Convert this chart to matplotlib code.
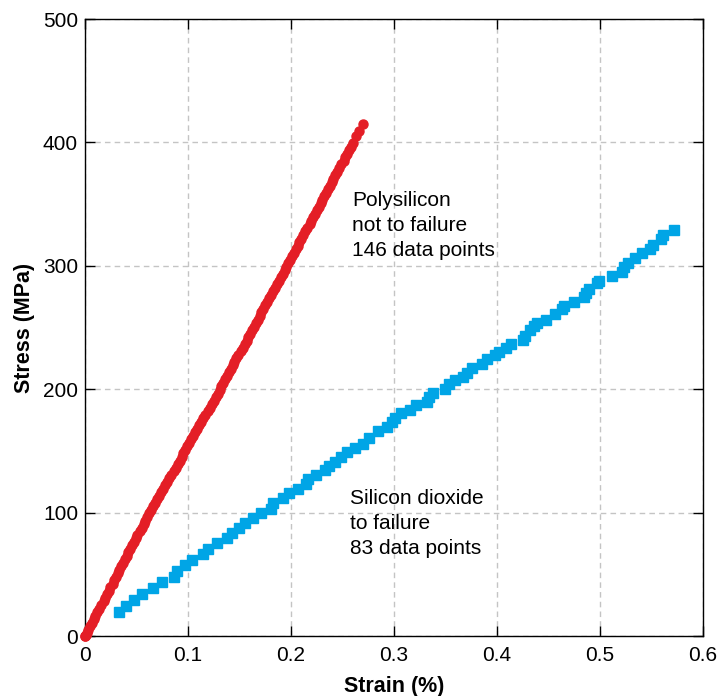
import matplotlib
matplotlib.use('Agg')
import matplotlib.pyplot as plt

plt.rcParams['font.family'] = ['Liberation Sans', 'DejaVu Sans']

# Polysilicon (not to failure), 146 points
poly_strain = [
    0.000, 0.000, 0.001, 0.002, 0.003, 0.005, 0.007, 0.009, 0.010, 0.012,
    0.014, 0.016, 0.018, 0.019, 0.021, 0.023, 0.024, 0.027, 0.028, 0.030,
    0.032, 0.033, 0.035, 0.037, 0.039, 0.041, 0.042, 0.044, 0.046, 0.048,
    0.050, 0.051, 0.053, 0.055, 0.057, 0.058, 0.060, 0.062, 0.064, 0.066,
    0.068, 0.070, 0.072, 0.074, 0.076, 0.078, 0.080, 0.082, 0.084, 0.086,
    0.088, 0.090, 0.092, 0.094, 0.095, 0.097, 0.099, 0.101, 0.103, 0.105,
    0.107, 0.109, 0.111, 0.113, 0.115, 0.117, 0.119, 0.121, 0.123, 0.125,
    0.127, 0.129, 0.131, 0.132, 0.134, 0.136, 0.138, 0.140, 0.142, 0.144,
    0.145, 0.147, 0.149, 0.151, 0.153, 0.155, 0.157, 0.158, 0.160, 0.162,
    0.164, 0.166, 0.168, 0.170, 0.171, 0.173, 0.175, 0.177, 0.179, 0.181,
    0.183, 0.184, 0.186, 0.188, 0.190, 0.192, 0.194, 0.195, 0.197, 0.199,
    0.201, 0.203, 0.205, 0.207, 0.208, 0.210, 0.212, 0.214, 0.216, 0.218,
    0.219, 0.221, 0.223, 0.225, 0.227, 0.229, 0.230, 0.232, 0.234, 0.236,
    0.238, 0.240, 0.241, 0.243, 0.245, 0.247, 0.249, 0.251, 0.252, 0.254,
    0.256, 0.258, 0.260, 0.263, 0.266, 0.270,
]
poly_stress = [
    0.0, 0.4, 1.1, 2.6, 5.2, 8.0, 10.9, 13.6, 16.5, 19.4,
    22.2, 25.0, 28.1, 30.8, 33.7, 36.5, 39.4, 42.3, 45.0, 48.0,
    50.8, 53.6, 56.5, 59.4, 62.2, 65.1, 67.9, 70.8, 73.7, 76.5,
    79.3, 82.2, 85.1, 87.9, 90.8, 93.6, 96.5, 99.4, 102.2, 105.0,
    107.9, 110.8, 113.6, 116.5, 119.3, 122.2, 125.1, 127.9, 130.8, 133.6,
    136.5, 139.3, 142.2, 145.1, 147.9, 150.8, 153.6, 156.5, 159.3, 162.2,
    165.0, 167.9, 170.8, 173.6, 176.5, 179.3, 182.2, 185.0, 187.9, 190.8,
    193.6, 196.5, 199.3, 202.2, 205.0, 207.9, 210.7, 213.6, 216.5, 219.3,
    222.2, 225.0, 227.9, 230.7, 233.6, 236.5, 239.3, 242.2, 245.0, 247.9,
    250.7, 253.6, 256.4, 259.3, 262.2, 265.0, 267.9, 270.7, 273.6, 276.4,
    279.3, 282.2, 285.0, 287.9, 290.7, 293.6, 296.4, 299.3, 302.1, 305.0,
    307.9, 310.7, 313.6, 316.4, 319.3, 322.1, 325.0, 327.9, 330.7, 333.6,
    336.4, 339.3, 342.1, 345.0, 347.8, 350.7, 353.6, 356.4, 359.3, 362.1,
    365.0, 367.8, 370.7, 373.6, 376.4, 379.3, 382.1, 385.0, 387.8, 390.7,
    393.5, 396.4, 399.3, 405.0, 409.6, 414.8,
]

# Silicon dioxide (to failure), 83 points
oxide_strain = [
    0.033, 0.040, 0.048, 0.055, 0.066, 0.075, 0.086, 0.089, 0.097, 0.104,
    0.115, 0.119, 0.128, 0.138, 0.143, 0.150, 0.155, 0.163, 0.171, 0.181,
    0.183, 0.192, 0.198, 0.207, 0.215, 0.217, 0.224, 0.233, 0.237, 0.243,
    0.249, 0.254, 0.262, 0.270, 0.276, 0.284, 0.293, 0.298, 0.301, 0.307,
    0.316, 0.321, 0.332, 0.334, 0.338, 0.350, 0.353, 0.359, 0.367, 0.371,
    0.376, 0.385, 0.390, 0.398, 0.402, 0.409, 0.414, 0.425, 0.427, 0.432,
    0.436, 0.439, 0.448, 0.456, 0.463, 0.465, 0.475, 0.484, 0.486, 0.489,
    0.497, 0.499, 0.512, 0.521, 0.523, 0.527, 0.534, 0.541, 0.549, 0.551,
    0.559, 0.561, 0.572,
]
oxide_stress = [
    19.7, 24.6, 29.2, 34.0, 39.1, 44.0, 48.1, 52.7, 57.3, 61.6,
    66.2, 70.3, 75.1, 79.2, 83.2, 87.3, 91.3, 95.4, 99.4, 102.9,
    107.5, 111.6, 115.6, 118.9, 122.9, 127.0, 130.5, 134.5, 137.8, 141.2,
    145.3, 149.4, 152.6, 155.6, 160.2, 166.4, 169.1, 173.7, 176.4, 180.5,
    183.1, 187.2, 189.9, 193.4, 197.2, 199.9, 204.0, 207.5, 210.1, 213.4,
    216.9, 220.2, 224.2, 227.7, 229.9, 233.1, 236.6, 239.9, 243.4, 248.0,
    251.2, 253.9, 256.1, 260.7, 264.7, 267.4, 270.9, 274.5, 277.7, 281.0,
    285.8, 287.9, 291.7, 295.2, 298.8, 302.0, 306.1, 310.1, 313.4, 316.9,
    321.5, 325.0, 329.0,
]

x_ticks = [0, 0.1, 0.2, 0.3, 0.4, 0.5, 0.6]
x_tick_labels = ['0', '0.1', '0.2', '0.3', '0.4', '0.5', '0.6']
y_ticks = [0, 100, 200, 300, 400, 500]

fig = plt.figure(figsize=(7.17, 6.96), dpi=100)
ax = fig.add_axes([0.1185, 0.0862, 0.862, 0.8865])

ax.plot(oxide_strain, oxide_stress, linestyle='none', marker='s',
        markersize=6.5, color='#00A5E6', clip_on=False, zorder=3)
ax.plot(poly_strain, poly_stress, linestyle='none', marker='o',
        markersize=6.5, color='#E41E26', clip_on=False, zorder=4)

ax.set_xlim(0, 0.6)
ax.set_ylim(0, 500)
ax.set_xticks(x_ticks)
ax.set_xticklabels(x_tick_labels)
ax.set_yticks(y_ticks)

ax.grid(True, linestyle=(0, (4, 3)), color='#c4c4c4', linewidth=1)
ax.set_axisbelow(True)
ax.tick_params(direction='in', length=7, width=1, labelsize=15,
               top=True, right=True, color='black')
ax.tick_params(axis='x', pad=7)
ax.tick_params(axis='y', pad=5)
for s in ax.spines.values():
    s.set_linewidth(1)

ax.set_xlabel('Strain (%)', fontsize=15.5, fontweight='bold', labelpad=8)
ax.set_ylabel('Stress (MPa)', fontsize=15.5, fontweight='bold', labelpad=6)

ax.text(0.259, 361, 'Polysilicon\nnot to failure\n146 data points',
        fontsize=15, va='top', ha='left', linespacing=1.4)
ax.text(0.257, 119.5, 'Silicon dioxide\nto failure\n83 data points',
        fontsize=15, va='top', ha='left', linespacing=1.4)

fig.savefig('out.png', dpi=100)
